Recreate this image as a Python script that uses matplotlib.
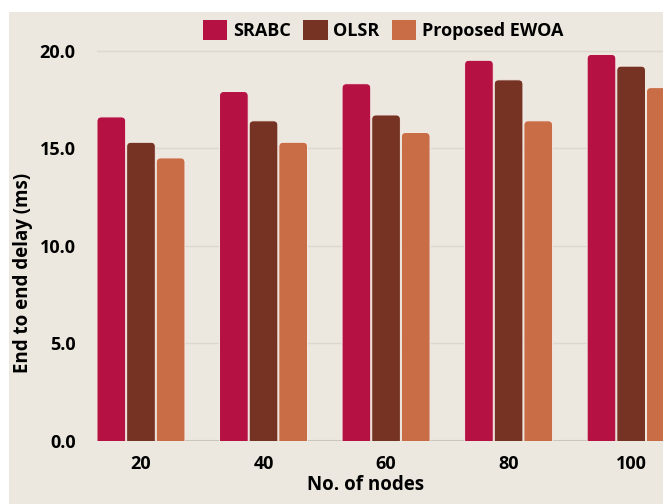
import matplotlib
matplotlib.use('Agg')
import matplotlib.pyplot as plt
from matplotlib.patches import Rectangle, FancyBboxPatch
import numpy as np

plt.rcParams['font.family'] = ['Open Sans', 'DejaVu Sans']
plt.rcParams['font.weight'] = 'bold'

nodes = ['20', '40', '60', '80', '100']
srabc = [16.6, 17.9, 18.3, 19.5, 19.8]
olsr = [15.3, 16.4, 16.7, 18.5, 19.2]
ewoa = [14.5, 15.3, 15.8, 16.4, 18.1]
series = [('SRABC', srabc, '#b51243'),
          ('OLSR', olsr, '#763323'),
          ('Proposed EWOA', ewoa, '#c96d47')]

W, H = 663, 504
fig = plt.figure(figsize=(W / 100, H / 100), dpi=100, facecolor='white')
# beige panel behind the chart
fig.patches.append(Rectangle((9 / W, 0), 1, (H - 12) / H, transform=fig.transFigure,
                             facecolor='#ece8df', edgecolor='none', zorder=-1))

left, bottom = 96.5 / W, (H - 441) / H
ax = fig.add_axes([left, bottom, 1 - left, (441 - 31) / H])
ax.set_facecolor('none')
ax.set_xlim(-0.363, 4.26)
ax.set_ylim(0, 21.0)

bw = 0.242
x = np.arange(len(nodes))
# px -> data ratio so the rounded corners stay circular
aspect = (1 / 19.5) / (1 / 122.5)
for i, (name, vals, col) in enumerate(series):
    for xi, v in zip(x, vals):
        xl = xi + (i - 1) * bw - bw / 2
        p = FancyBboxPatch((xl + 0.004, -1), bw - 0.008, v + 1,
                           boxstyle='round,pad=0,rounding_size=0.035',
                           mutation_aspect=aspect,
                           facecolor=col, edgecolor='#f4ece6', linewidth=0.7, zorder=3)
        ax.add_patch(p)
    ax.bar([0], [0], color=col, label=name)

ax.set_yticks([0, 5, 10, 15, 20])
ax.set_yticklabels(['0.0', '5.0', '10.0', '15.0', '20.0'])
ax.set_xticks(x)
ax.set_xticklabels(nodes)
ax.tick_params(axis='both', length=0, labelsize=13)
ax.tick_params(axis='y', pad=15)
ax.tick_params(axis='x', pad=10)
ax.grid(axis='y', color='#dcd8cc', linewidth=1, zorder=1)
ax.set_axisbelow(True)
ax.axhline(0, color='#cbc6ba', linewidth=1.5, zorder=2)
for s in ax.spines.values():
    s.set_visible(False)

ax.set_xlabel('No. of nodes', fontsize=13.5, fontweight='bold')
ax.xaxis.set_label_coords((366 - 96.5) / (W - 96.5), -(475 - 441) / 410)
ax.set_ylabel('End to end delay (ms)', fontsize=13.5, fontweight='bold')
ax.yaxis.set_label_coords(-(96.5 - 33) / (W - 96.5), (441 - 273) / 410)

leg = fig.legend(loc='center', bbox_to_anchor=(383 / W, (H - 30) / H), ncol=3,
                 frameon=False, fontsize=13, handlelength=1.35, handleheight=1.35,
                 handletextpad=0.3, columnspacing=0.7, borderaxespad=0)
for t in leg.get_texts():
    t.set_fontweight('bold')

fig.savefig('out.png', dpi=100, facecolor='white')
